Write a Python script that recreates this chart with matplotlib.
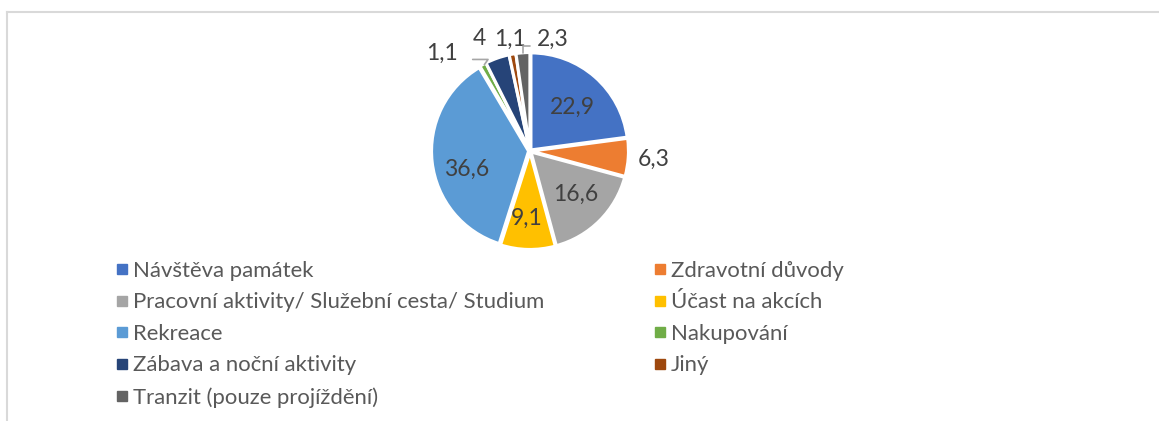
import numpy as np
import matplotlib
matplotlib.use("Agg")
import matplotlib.pyplot as plt
from matplotlib.lines import Line2D

categories = ["Návštěva památek", "Zdravotní důvody",
              "Pracovní aktivity/ Služební cesta/ Studium", "Účast na akcích",
              "Rekreace", "Nakupování", "Zábava a noční aktivity", "Jiný",
              "Tranzit (pouze projíždění)"]
values = [22.9, 6.3, 16.6, 9.1, 36.6, 1.1, 4, 1.1, 2.3]
value_labels = ["22,9", "6,3", "16,6", "9,1", "36,6", "1,1", "4", "1,1", "2,3"]
colors = ["#4472C4", "#ED7D31", "#A5A5A5", "#FFC000", "#5B9BD5",
          "#70AD47", "#264478", "#9E480E", "#636363"]

# label placement style: (radius, angle offset in degrees)
label_style = [(0.63, -3), (1.28, 0), (0.65, 2), (0.70, -2), (0.68, 10),
               (1.36, 13.5), (1.27, 5), (1.17, 0), (1.17, -15.5)]
leader = [None, None, None, None, None, "left", None, None, "right"]

FONT = "Lato"
W, H = 1159, 421
fig = plt.figure(figsize=(W / 100, H / 100), dpi=100)
fig.patch.set_facecolor("white")

cx, cy, r = 530, 151, 97
scale = 1.5
ax = fig.add_axes([(cx - r * scale) / W, 1 - (cy + r * scale) / H,
                   2 * r * scale / W, 2 * r * scale / H])

wedges, _ = ax.pie(values, colors=colors, startangle=90, counterclock=False,
                   radius=1.0, explode=[0.015] * len(values),
                   wedgeprops=dict(edgecolor="white", linewidth=2.2))
ax.set_xlim(-scale, scale)
ax.set_ylim(-scale, scale)
ax.set_aspect("equal")
ax.axis("off")

LBL = 16.5
for w, lab, (rad, off), ld in zip(wedges, value_labels, label_style, leader):
    mid = np.deg2rad((w.theta1 + w.theta2) / 2)
    ang = mid + np.deg2rad(off)
    tx, ty = rad * np.cos(ang), rad * np.sin(ang)
    ex, ey = 1.0 * np.cos(mid), 1.0 * np.sin(mid)
    if ld == "left":
        ax.annotate(lab, xy=(ex, ey), xytext=(tx, ty), ha="center", va="center",
                    fontsize=LBL, color="#404040", family=FONT,
                    arrowprops=dict(arrowstyle="-", color="#A6A6A6", lw=1.2,
                                    shrinkA=9, shrinkB=1, relpos=(1, 0.2),
                                    connectionstyle="angle,angleA=0,angleB=55,rad=0"))
    elif ld == "right":
        ax.annotate(lab, xy=(ex, ey), xytext=(tx, ty), ha="center", va="center",
                    fontsize=LBL, color="#404040", family=FONT,
                    arrowprops=dict(arrowstyle="-", color="#A6A6A6", lw=1.2,
                                    shrinkA=3, shrinkB=1, relpos=(0, 0.2),
                                    connectionstyle="angle,angleA=0,angleB=90,rad=0"))
    else:
        ax.text(tx, ty, lab, ha="center", va="center", fontsize=LBL,
                color="#404040", family=FONT)

def handle(c):
    return Line2D([], [], marker="s", linestyle="none", markersize=6.5,
                  markerfacecolor=c, markeredgecolor=c)

left_idx = [0, 2, 4, 6, 8]
right_idx = [1, 3, 5, 7]
common = dict(frameon=False, handlelength=0.5, handletextpad=0.25,
              labelspacing=0.52, borderpad=0, borderaxespad=0,
              prop=dict(family=FONT, size=15.9), labelcolor="#595959", loc="upper left")
leg1 = fig.legend([handle(colors[i]) for i in left_idx],
                  [categories[i] for i in left_idx],
                  bbox_to_anchor=(116 / W, 1 - 261 / H), **common)
leg2 = fig.legend([handle(colors[i]) for i in right_idx],
                  [categories[i] for i in right_idx],
                  bbox_to_anchor=(654 / W, 1 - 261 / H), **common)

# chart border (top and left)
fig.add_artist(Line2D([7 / W, 1], [1 - 12 / H, 1 - 12 / H], color="#D9D9D9", lw=1.5))
fig.add_artist(Line2D([7 / W, 7 / W], [1 - 12 / H, 0], color="#D9D9D9", lw=1.5))

fig.savefig("out.png", dpi=100, facecolor="white")
